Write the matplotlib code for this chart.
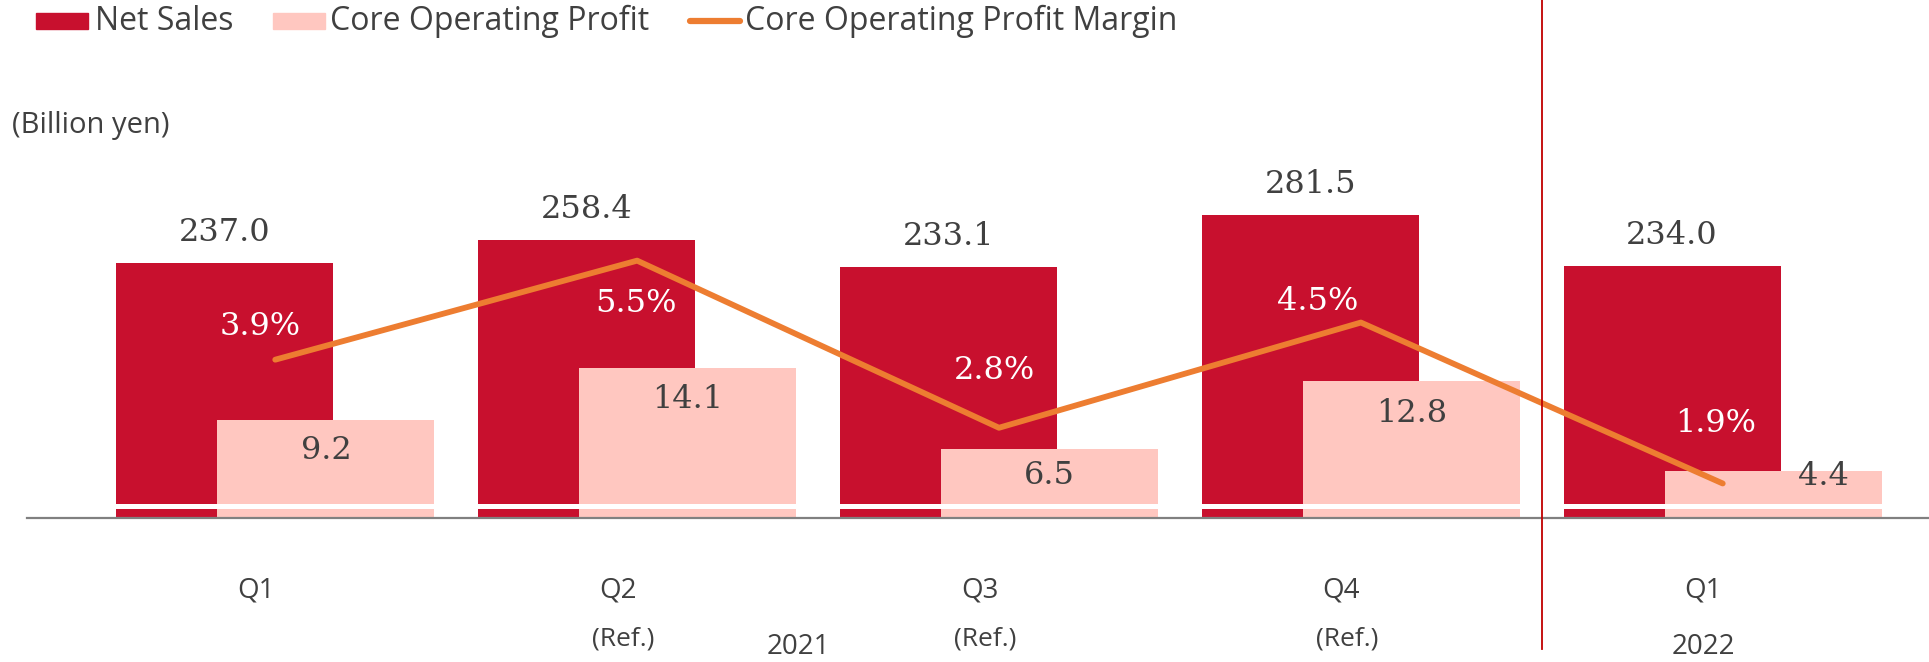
import matplotlib.pyplot as plt
from matplotlib.patches import Rectangle
from matplotlib.lines import Line2D
import numpy as np

# data
quarters = ["Q1", "Q2", "Q3", "Q4", "Q1"]
ref_notes = ["", "(Ref.)", "(Ref.)", "(Ref.)", ""]
years = ["2021", "2022"]
year_of = [0, 0, 0, 0, 1]
net_sales = [237.0, 258.4, 233.1, 281.5, 234.0]
core_profit = [9.2, 14.1, 6.5, 12.8, 4.4]
core_margin = [3.9, 5.5, 2.8, 4.5, 1.9]

RED = "#C8102E"
PINK = "#FFC7C0"
ORANGE = "#ED7D31"
TXT = "#404040"
SANS = ["Open Sans", "DejaVu Sans"]
SERIF = ["DejaVu Serif"]

# label nudges in points (placement only)
core_off = [(0, -22), (0, -23), (0, -19), (0, -23), (36, -4)]
pct_off = [(-11, 24), (-1, -31), (-3, 41), (-31, 15), (-5, 43)]

W, H = 1929, 662
fig = plt.figure(figsize=(W / 100, H / 100), dpi=100)
ax = fig.add_axes([0.014, 0.2175, 0.986, 0.7525])
ax2 = ax.twinx()
ax3 = ax.twinx()
x = np.arange(len(quarters))

ax.bar(x - 0.14, net_sales, 0.6, color=RED, linewidth=0)
ax2.bar(x + 0.14, core_profit, 0.6, color=PINK, linewidth=0)
ax3.plot(x, core_margin, color=ORANGE, lw=4.2, solid_capstyle="round", zorder=4)

ax.set_xlim(-0.686, 4.57)
ax.set_ylim(0, 462.6)
ax2.set_ylim(0, 46.7)
ax3.set_ylim(1.342, 9.39)
for a in (ax, ax2, ax3):
    a.axis("off")

# axis break strip, baseline and year separator
ax3.add_patch(Rectangle((0, 8.4), 1, 4.6, transform=ax.get_yaxis_transform(),
                        color="white", lw=0, zorder=3))
ax3.plot([0, 1], [0, 0], transform=ax.get_yaxis_transform(), color="#808080",
         lw=1.6, zorder=3, clip_on=False)
sep = (x[3] + x[4]) / 2
ax3.plot([sep, sep], [1.04, -0.262], transform=ax.get_xaxis_transform(),
         color="#C00000", lw=1.3, zorder=5, clip_on=False)

for xi, v in zip(x, net_sales):
    ax.annotate(f"{v:.1f}", (xi - 0.14, v), xytext=(0, 22), textcoords="offset points",
                ha="center", va="center", fontsize=23, family=SERIF, color=TXT)
for xi, v, off in zip(x, core_profit, core_off):
    ax2.annotate(f"{v:.1f}", (xi + 0.14, v), xytext=off, textcoords="offset points",
                 ha="center", va="center", fontsize=23, family=SERIF, color=TXT)
for xi, v, off in zip(x, core_margin, pct_off):
    ax3.annotate(f"{v:.1f}%", (xi, v), xytext=off, textcoords="offset points",
                 ha="center", va="center", fontsize=23, family=SERIF, color="white",
                 zorder=6)

tr = ax.get_xaxis_transform()
for xi, q, n in zip(x, quarters, ref_notes):
    ax.annotate(q, (xi, -0.1446), xycoords=tr, xytext=(-14, 0), textcoords="offset points",
                ha="center", va="center", fontsize=20, family=SANS, color=TXT,
                annotation_clip=False)
    if n:
        ax.annotate(n, (xi, -0.243), xycoords=tr, xytext=(-10, 0), textcoords="offset points",
                    ha="center", va="center", fontsize=19, family=SANS, color=TXT,
                    annotation_clip=False)
for i, yr in enumerate(years):
    xs = [xi for xi, g in zip(x, year_of) if g == i]
    ax.annotate(yr, (np.mean(xs), -0.259), xycoords=tr, xytext=(-14, 0),
                textcoords="offset points", ha="center", va="center", fontsize=20,
                family=SANS, color=TXT, annotation_clip=False)

fig.text(12 / W, 1 - 125 / H, "(Billion yen)", ha="left", va="center", fontsize=21,
         family=SANS, color=TXT)

# legend, laid out by hand like the original
legend_labels = ["Net Sales", "Core Operating Profit", "Core Operating Profit Margin"]
ly = 1 - 21 / H
fig.add_artist(Rectangle((36 / W, 1 - 29 / H), 52 / W, 16 / H, color=RED,
                         transform=fig.transFigure))
fig.add_artist(Rectangle((273 / W, 1 - 29 / H), 52 / W, 16 / H, color=PINK,
                         transform=fig.transFigure))
fig.add_artist(Line2D([690 / W, 740 / W], [ly, ly], color=ORANGE, lw=4.5,
                      solid_capstyle="round", transform=fig.transFigure))
for lx, lab in zip([95, 330, 745], legend_labels):
    fig.text(lx / W, ly, lab, ha="left", va="center", fontsize=23, family=SANS,
             color=TXT)

fig.savefig("out.png", dpi=100)
